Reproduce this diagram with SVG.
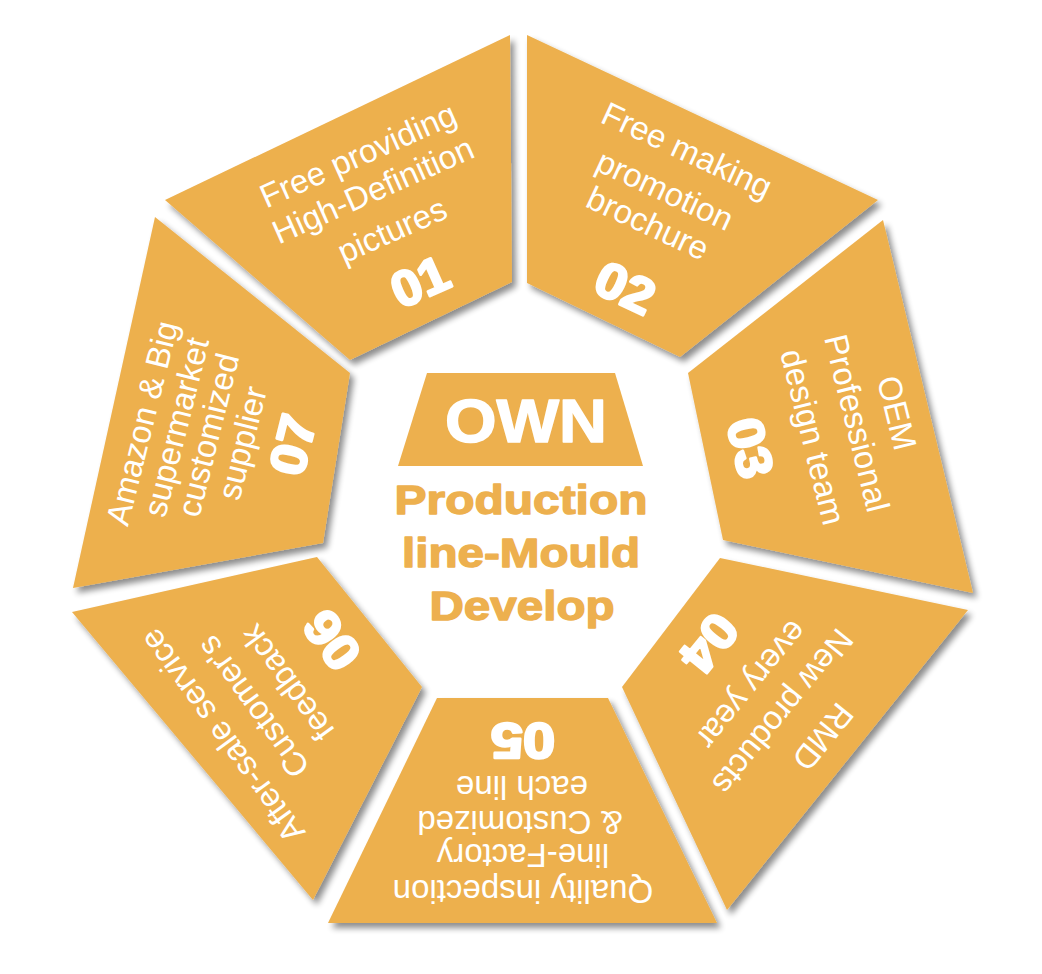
<svg xmlns="http://www.w3.org/2000/svg" width="1042" height="974" viewBox="0 0 1042 974">
<defs>
<filter id="sh" x="-10%" y="-10%" width="130%" height="130%">
<feGaussianBlur in="SourceAlpha" stdDeviation="3"/>
<feOffset dx="4" dy="5" result="b"/>
<feComponentTransfer><feFuncA type="linear" slope="0.45"/></feComponentTransfer>
<feMerge><feMergeNode/><feMergeNode in="SourceGraphic"/></feMerge>
</filter>
</defs>
<style>
.seg{fill:#EDB04E;filter:url(#sh)}
.t{font-family:"Liberation Sans",Arial,sans-serif;font-size:33px;fill:#ffffff;text-anchor:middle;dominant-baseline:central}
.n{font-family:"Liberation Sans",Arial,sans-serif;font-size:50px;font-weight:bold;fill:#ffffff;stroke:#ffffff;stroke-width:2.6;stroke-linejoin:round;text-anchor:middle;dominant-baseline:central}
.c{font-family:"Liberation Sans",Arial,sans-serif;font-size:41px;font-weight:bold;fill:#EDB04E;stroke:#EDB04E;stroke-width:1.4;stroke-linejoin:round;text-anchor:middle}
</style>
<rect width="1042" height="974" fill="#ffffff"/>
<g id="seg01">
<polygon class="seg" points="165,200 510,35 512,282 350,360"/>
<text class="t" transform="translate(358,155) rotate(-24)">Free providing</text>
<text class="t" transform="translate(373,190) rotate(-24)">High-Definition</text>
<text class="t" transform="translate(392,230) rotate(-24)">pictures</text>
<text class="n" transform="translate(420,282) rotate(-24)" textLength="58" lengthAdjust="spacingAndGlyphs">01</text>
</g>
<g id="seg02">
<polygon class="seg" points="527,35 878,200 680,357 527,283"/>
<text class="t" transform="translate(687,150) rotate(25)">Free making</text>
<text class="t" transform="translate(665,190) rotate(25)">promotion</text>
<text class="t" transform="translate(648,223) rotate(25)">brochure</text>
<text class="n" transform="translate(625,288) rotate(25)" textLength="60" lengthAdjust="spacingAndGlyphs">02</text>
</g>
<g id="seg03">
<polygon class="seg" points="883,220 973,593 723,540 688,373"/>
<text class="t" transform="translate(897,413) rotate(76)">OEM</text>
<text class="t" transform="translate(857,423) rotate(76)">Professional</text>
<text class="t" transform="translate(813,437) rotate(76)">design team</text>
<text class="n" transform="translate(750,448) rotate(76)" textLength="60" lengthAdjust="spacingAndGlyphs">03</text>
</g>
<g id="seg04">
<polygon class="seg" points="720,558 968,610 727,910 622,687"/>
<text class="t" transform="translate(823,737) rotate(129)">RMD</text>
<text class="t" transform="translate(783,712) rotate(129)">New products</text>
<text class="t" transform="translate(752,685) rotate(129)">every year</text>
<text class="n" transform="translate(709,643) rotate(129)" textLength="60" lengthAdjust="spacingAndGlyphs">04</text>
</g>
<g id="seg05">
<polygon class="seg" points="437,698 608,698 717,923 328,923"/>
<text class="t" transform="translate(523,891) rotate(180)">Quality inspection</text>
<text class="t" transform="translate(523,855) rotate(180)">line-Factory</text>
<text class="t" transform="translate(520,822) rotate(180)">&amp; Customized</text>
<text class="t" transform="translate(522,787) rotate(180)">each line</text>
<text class="n" transform="translate(523,740) rotate(180)" textLength="64" lengthAdjust="spacingAndGlyphs">05</text>
</g>
<g id="seg06">
<polygon class="seg" points="317,557 422,687 313,900 72,612"/>
<text class="t" transform="translate(222,736) rotate(-126)">After-sale service</text>
<text class="t" transform="translate(253,707) rotate(-126)">Customer's</text>
<text class="t" transform="translate(287,683) rotate(-126)">feedback</text>
<text class="n" transform="translate(332,640) rotate(-126)" textLength="60" lengthAdjust="spacingAndGlyphs">06</text>
</g>
<g id="seg07">
<polygon class="seg" points="155,217 350,373 323,543 73,588"/>
<text class="t" transform="translate(142,423) rotate(-76)">Amazon &amp; Big</text>
<text class="t" transform="translate(176,427) rotate(-76)">supermarket</text>
<text class="t" transform="translate(208,435) rotate(-76)">customized</text>
<text class="t" transform="translate(242,443) rotate(-76)">supplier</text>
<text class="n" transform="translate(293,445) rotate(-76)" textLength="60" lengthAdjust="spacingAndGlyphs">07</text>
</g>
<g id="center">
<polygon points="427,373 615,373 643,466 398,466" fill="#EDB04E"/>
<text x="526" y="442" font-family="Liberation Sans,Arial,sans-serif" font-size="62" font-weight="bold" fill="#ffffff" stroke="#ffffff" stroke-width="1.5" stroke-linejoin="round" text-anchor="middle" textLength="162" lengthAdjust="spacingAndGlyphs">OWN</text>
<text class="c" x="521" y="514" textLength="253" lengthAdjust="spacingAndGlyphs">Production</text>
<text class="c" x="521" y="567" textLength="238" lengthAdjust="spacingAndGlyphs">line-Mould</text>
<text class="c" x="522" y="620" textLength="185" lengthAdjust="spacingAndGlyphs">Develop</text>
</g>
<g id="connectors"/>
</svg>
